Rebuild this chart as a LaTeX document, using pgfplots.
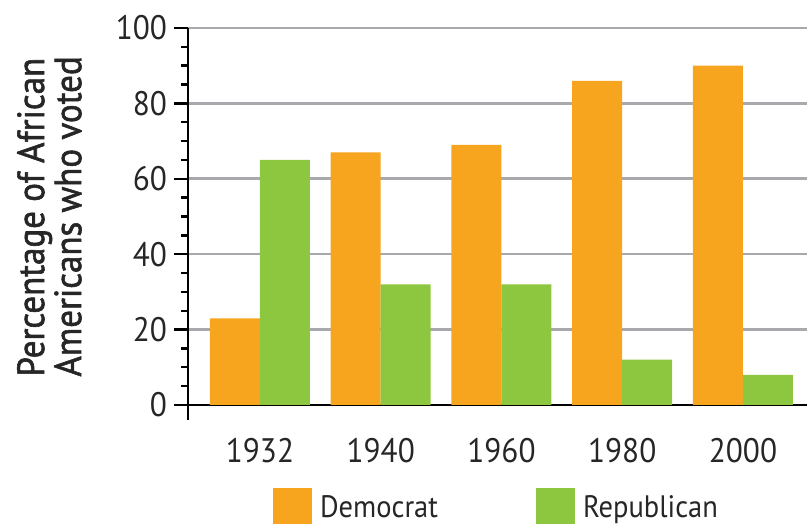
\documentclass[border=0pt]{standalone}
\usepackage{fontspec}
\setmainfont{PT Sans}[FakeStretch=0.92]
\newfontfamily\labfont{PT Sans}[FakeStretch=0.92,FakeBold=1.5]
\usepackage{pgfplots}
\pgfplotsset{compat=1.18}
\definecolor{dem}{HTML}{F7A51E}
\definecolor{rep}{HTML}{8DC63F}
\definecolor{gridc}{HTML}{A8A9AD}
\begin{document}
\begin{tikzpicture}
\begin{axis}[name=ax,
  scale only axis, width=309.5pt, height=188.5pt,
  xmin=-0.596, xmax=4.53, ymin=0, ymax=100,
  axis x line=bottom, axis y line=left,
  axis line style={-, line width=1.3pt, black},
  y axis line style={shorten <=-7.5pt},
  ytick={0,20,...,100}, minor y tick num=3,
  tick align=outside, major tick length=7pt, minor tick length=3.5pt,
  major tick style={line width=1.2pt, black},
  minor tick style={line width=1.2pt, black},
  xtick={0,1,2,3,4}, xticklabels={1932,1940,1960,1980,2000},
  x tick style={draw=none},
  ymajorgrids, major grid style={gridc, line width=1.3pt},
  ybar=0pt, bar width=25pt,
  /pgf/number format/assume math mode=true,
  ticklabel style={font=\fontsize{17}{20}\selectfont, text=black!85},
  xticklabel style={yshift=-6pt},
  ylabel={Percentage of African\\Americans who voted},
  ylabel style={at={(axis description cs:-0.1712,0.0743)}, anchor=south west, align=left, inner sep=0pt, font=\labfont\fontsize{19}{17.5}\selectfont, text=black!85},
  legend columns=2,
  legend style={at={(axis description cs:0.5,-0.22)}, anchor=north, draw=none, inner sep=0pt,
    font=\fontsize{15.5}{18}\selectfont, text=black!85,
    /tikz/every odd column/.append style={column sep=2pt},
    /tikz/every even column/.append style={column sep=47pt}},
  legend image code/.code={\path[#1, draw=none] (0pt,-9.75pt) rectangle (19.5pt,9.75pt);},
]
\addplot[fill=dem, draw=none] coordinates {(0,23) (1,67) (2,69) (3,86) (4,90)};
\addplot[fill=rep, draw=none] coordinates {(0,65) (1,32) (2,32) (3,12) (4,8)};
\legend{Democrat, Republican}
\end{axis}
\pgfresetboundingbox
\path[use as bounding box] ([xshift=-94pt,yshift=-59.5pt]ax.south west) rectangle ([yshift=14pt]ax.north east);
\end{tikzpicture}
\end{document}
